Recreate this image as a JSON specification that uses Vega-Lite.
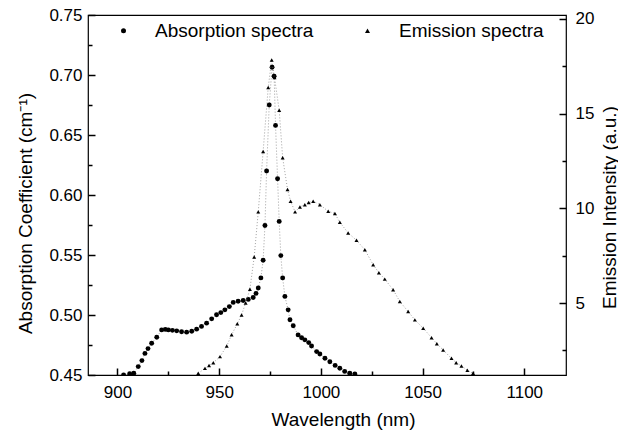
{
  "$schema": "https://vega.github.io/schema/vega-lite/v6.json",
  "width": 478,
  "height": 360,
  "autosize": "none",
  "padding": {"left": 88, "top": 15, "right": 52, "bottom": 63},
  "background": "white",
  "datasets": {
    "absorption": [
      {"w": 903, "v": 0.450, "series": "Absorption spectra"},
      {"w": 906, "v": 0.451, "series": "Absorption spectra"},
      {"w": 908, "v": 0.4515, "series": "Absorption spectra"},
      {"w": 910.2, "v": 0.457, "series": "Absorption spectra"},
      {"w": 912, "v": 0.462, "series": "Absorption spectra"},
      {"w": 913.5, "v": 0.468, "series": "Absorption spectra"},
      {"w": 915, "v": 0.472, "series": "Absorption spectra"},
      {"w": 916.8, "v": 0.4765, "series": "Absorption spectra"},
      {"w": 919.3, "v": 0.4815, "series": "Absorption spectra"},
      {"w": 921.7, "v": 0.4876, "series": "Absorption spectra"},
      {"w": 923.5, "v": 0.488, "series": "Absorption spectra"},
      {"w": 925, "v": 0.4876, "series": "Absorption spectra"},
      {"w": 927, "v": 0.4872, "series": "Absorption spectra"},
      {"w": 929.1, "v": 0.4868, "series": "Absorption spectra"},
      {"w": 931.5, "v": 0.486, "series": "Absorption spectra"},
      {"w": 934, "v": 0.4857, "series": "Absorption spectra"},
      {"w": 936.5, "v": 0.4865, "series": "Absorption spectra"},
      {"w": 938.9, "v": 0.4882, "series": "Absorption spectra"},
      {"w": 941.3, "v": 0.4905, "series": "Absorption spectra"},
      {"w": 943.8, "v": 0.4932, "series": "Absorption spectra"},
      {"w": 946.3, "v": 0.4968, "series": "Absorption spectra"},
      {"w": 948.7, "v": 0.5002, "series": "Absorption spectra"},
      {"w": 950.8, "v": 0.502, "series": "Absorption spectra"},
      {"w": 952.8, "v": 0.5043, "series": "Absorption spectra"},
      {"w": 955, "v": 0.507, "series": "Absorption spectra"},
      {"w": 956.9, "v": 0.5105, "series": "Absorption spectra"},
      {"w": 959.3, "v": 0.5115, "series": "Absorption spectra"},
      {"w": 961.8, "v": 0.5121, "series": "Absorption spectra"},
      {"w": 964.3, "v": 0.513, "series": "Absorption spectra"},
      {"w": 966.7, "v": 0.5146, "series": "Absorption spectra"},
      {"w": 968.1, "v": 0.518, "series": "Absorption spectra"},
      {"w": 969.2, "v": 0.5225, "series": "Absorption spectra"},
      {"w": 970.5, "v": 0.5309, "series": "Absorption spectra"},
      {"w": 971.6, "v": 0.5456, "series": "Absorption spectra"},
      {"w": 972.5, "v": 0.5746, "series": "Absorption spectra"},
      {"w": 973.3, "v": 0.62, "series": "Absorption spectra"},
      {"w": 974.6, "v": 0.675, "series": "Absorption spectra"},
      {"w": 976, "v": 0.7065, "series": "Absorption spectra"},
      {"w": 977, "v": 0.699, "series": "Absorption spectra"},
      {"w": 977.7, "v": 0.658, "series": "Absorption spectra"},
      {"w": 978.7, "v": 0.6136, "series": "Absorption spectra"},
      {"w": 979.5, "v": 0.578, "series": "Absorption spectra"},
      {"w": 980.3, "v": 0.5495, "series": "Absorption spectra"},
      {"w": 981.2, "v": 0.5309, "series": "Absorption spectra"},
      {"w": 982.3, "v": 0.5155, "series": "Absorption spectra"},
      {"w": 983.9, "v": 0.5043, "series": "Absorption spectra"},
      {"w": 984.8, "v": 0.496, "series": "Absorption spectra"},
      {"w": 986.4, "v": 0.491, "series": "Absorption spectra"},
      {"w": 988.8, "v": 0.4834, "series": "Absorption spectra"},
      {"w": 990.5, "v": 0.481, "series": "Absorption spectra"},
      {"w": 992.1, "v": 0.4793, "series": "Absorption spectra"},
      {"w": 994, "v": 0.477, "series": "Absorption spectra"},
      {"w": 995.4, "v": 0.4742, "series": "Absorption spectra"},
      {"w": 997.9, "v": 0.4695, "series": "Absorption spectra"},
      {"w": 999.5, "v": 0.4675, "series": "Absorption spectra"},
      {"w": 1002, "v": 0.464, "series": "Absorption spectra"},
      {"w": 1004.4, "v": 0.4611, "series": "Absorption spectra"},
      {"w": 1007, "v": 0.458, "series": "Absorption spectra"},
      {"w": 1009.3, "v": 0.4556, "series": "Absorption spectra"},
      {"w": 1011.7, "v": 0.453, "series": "Absorption spectra"},
      {"w": 1014.2, "v": 0.4514, "series": "Absorption spectra"},
      {"w": 1016.7, "v": 0.4508, "series": "Absorption spectra"}
    ],
    "emission": [
      {"w": 939.7, "v": 1.29, "series": "Emission spectra"},
      {"w": 943, "v": 1.55, "series": "Emission spectra"},
      {"w": 945, "v": 1.7, "series": "Emission spectra"},
      {"w": 947.1, "v": 1.85, "series": "Emission spectra"},
      {"w": 950.4, "v": 2.17, "series": "Emission spectra"},
      {"w": 953.7, "v": 2.73, "series": "Emission spectra"},
      {"w": 956.1, "v": 3.32, "series": "Emission spectra"},
      {"w": 958.9, "v": 3.9, "series": "Emission spectra"},
      {"w": 961, "v": 4.37, "series": "Emission spectra"},
      {"w": 963, "v": 5.0, "series": "Emission spectra"},
      {"w": 965.1, "v": 5.73, "series": "Emission spectra"},
      {"w": 967.2, "v": 7.43, "series": "Emission spectra"},
      {"w": 969.2, "v": 9.81, "series": "Emission spectra"},
      {"w": 971.6, "v": 13.0, "series": "Emission spectra"},
      {"w": 974.1, "v": 16.37, "series": "Emission spectra"},
      {"w": 975.8, "v": 17.83, "series": "Emission spectra"},
      {"w": 977.2, "v": 16.9, "series": "Emission spectra"},
      {"w": 979.5, "v": 15.17, "series": "Emission spectra"},
      {"w": 981.2, "v": 12.67, "series": "Emission spectra"},
      {"w": 983.6, "v": 10.99, "series": "Emission spectra"},
      {"w": 985.1, "v": 10.37, "series": "Emission spectra"},
      {"w": 987.3, "v": 9.81, "series": "Emission spectra"},
      {"w": 989.7, "v": 10.07, "series": "Emission spectra"},
      {"w": 992.1, "v": 10.19, "series": "Emission spectra"},
      {"w": 994, "v": 10.3, "series": "Emission spectra"},
      {"w": 996.2, "v": 10.37, "series": "Emission spectra"},
      {"w": 999.5, "v": 10.19, "series": "Emission spectra"},
      {"w": 1003.6, "v": 9.84, "series": "Emission spectra"},
      {"w": 1006.9, "v": 9.72, "series": "Emission spectra"},
      {"w": 1009.3, "v": 9.26, "series": "Emission spectra"},
      {"w": 1013.4, "v": 8.7, "series": "Emission spectra"},
      {"w": 1017.5, "v": 8.31, "series": "Emission spectra"},
      {"w": 1021.6, "v": 7.81, "series": "Emission spectra"},
      {"w": 1025.7, "v": 7.02, "series": "Emission spectra"},
      {"w": 1028.5, "v": 6.6, "series": "Emission spectra"},
      {"w": 1031.4, "v": 6.26, "series": "Emission spectra"},
      {"w": 1035.5, "v": 5.7, "series": "Emission spectra"},
      {"w": 1038.8, "v": 5.08, "series": "Emission spectra"},
      {"w": 1042.9, "v": 4.55, "series": "Emission spectra"},
      {"w": 1046.2, "v": 4.11, "series": "Emission spectra"},
      {"w": 1050.3, "v": 3.67, "series": "Emission spectra"},
      {"w": 1054.4, "v": 3.17, "series": "Emission spectra"},
      {"w": 1057, "v": 2.85, "series": "Emission spectra"},
      {"w": 1060.1, "v": 2.52, "series": "Emission spectra"},
      {"w": 1064.2, "v": 2.08, "series": "Emission spectra"},
      {"w": 1066.5, "v": 1.85, "series": "Emission spectra"},
      {"w": 1069.1, "v": 1.68, "series": "Emission spectra"},
      {"w": 1072, "v": 1.45, "series": "Emission spectra"},
      {"w": 1074.8, "v": 1.29, "series": "Emission spectra"}
    ]
  },
  "encoding": {
    "x": {
      "field": "w",
      "type": "quantitative",
      "scale": {"domain": [885.5, 1120.5], "nice": false, "zero": false},
      "axis": {
        "title": "Wavelength (nm)",
        "values": [900, 925, 950, 975, 1000, 1025, 1050, 1075, 1100],
        "labelExpr": "datum.value % 50 == 0 ? format(datum.value, 'd') : ''",
        "offset": -7,
        "domain": false,
        "tickSize": 7,
        "tickDash": {"condition": {"test": "datum.value % 50 != 0", "value": [0, 3, 4, 20]}, "value": [20, 0]},
        "labelPadding": 9,
        "titleX": 255,
        "titleY": 57,
        "titleBaseline": "alphabetic",
        "titleAlign": "center"
      }
    }
  },
  "layer": [
    {
      "data": {"name": "absorption"},
      "encoding": {
        "y": {
          "field": "v",
          "type": "quantitative",
          "scale": {"domain": [0.45, 0.75], "nice": false, "zero": false},
          "axis": {
            "orient": "left",
            "title": "Absorption Coefficient (cm⁻¹)",
            "values": [0.45, 0.475, 0.5, 0.525, 0.55, 0.575, 0.6, 0.625, 0.65, 0.675, 0.7, 0.725, 0.75],
            "labelExpr": "round(datum.value*1000) % 50 == 0 ? format(datum.value, '.2f') : ''",
            "offset": -7,
            "domain": false,
            "tickSize": 7,
            "tickDash": {"condition": {"test": "round(datum.value*1000) % 50 != 0", "value": [0, 3, 4, 20]}, "value": [20, 0]},
            "labelPadding": 6,
            "titleX": -64,
            "titleY": 198,
            "titleAngle": -90,
            "titleBaseline": "alphabetic",
            "titleAlign": "center"
          }
        }
      },
      "layer": [
        {"mark": {"type": "line", "color": "#777", "strokeWidth": 0.7, "strokeDash": [1, 2], "clip": true}},
        {
          "mark": {"type": "point", "filled": true, "color": "black", "opacity": 1, "size": 24, "clip": true},
          "encoding": {
            "shape": {
              "field": "series",
              "type": "nominal",
              "scale": {"domain": ["Absorption spectra", "Emission spectra"], "range": ["circle", "triangle-up"]},
              "legend": {
                "title": null,
                "orient": "none",
                "direction": "horizontal",
                "legendX": 26,
                "legendY": 6,
                "labelFont": "Liberation Sans",
                "labelFontSize": 19,
                "labelColor": "black",
                "labelOffset": 22,
                "columnPadding": 44,
                "symbolSize": 25,
                "symbolFillColor": "black",
                "symbolStrokeColor": "black"
              }
            }
          }
        }
      ]
    },
    {
      "data": {"name": "emission"},
      "encoding": {
        "y": {
          "field": "v",
          "type": "quantitative",
          "scale": {"domain": [1.2, 20.2], "nice": false, "zero": false},
          "axis": {
            "orient": "right",
            "title": "Emission Intensity (a.u.)",
            "values": [2.5, 5, 7.5, 10, 12.5, 15, 17.5, 20],
            "labelExpr": "datum.value % 5 == 0 ? format(datum.value, 'd') : ''",
            "offset": -7,
            "domain": false,
            "tickSize": 7,
            "tickDash": {"condition": {"test": "datum.value % 5 != 0", "value": [0, 3, 4, 20]}, "value": [20, 0]},
            "labelPadding": 9,
            "titleX": 56,
            "titleY": 192,
            "titleAngle": -90,
            "titleBaseline": "alphabetic",
            "titleAlign": "center"
          }
        }
      },
      "layer": [
        {"mark": {"type": "line", "color": "#777", "strokeWidth": 0.7, "strokeDash": [1, 2], "clip": true}},
        {
          "mark": {"type": "point", "filled": true, "color": "black", "opacity": 1, "size": 16, "clip": true},
          "encoding": {
            "shape": {"field": "series", "type": "nominal"}
          }
        }
      ]
    }
  ],
  "resolve": {"scale": {"y": "independent"}},
  "config": {
    "view": {"stroke": "black", "strokeWidth": 1.2},
    "font": "Liberation Sans",
    "axis": {
      "grid": false,
      "domainColor": "black",
      "tickColor": "black",
      "tickWidth": 1.5,
      "labelFont": "Liberation Sans",
      "labelFontSize": 17,
      "labelColor": "black",
      "titleFont": "Liberation Sans",
      "titleFontSize": 19,
      "titleFontWeight": "normal",
      "titleColor": "black",
      "labelOverlap": false,
      "labelFlush": false
    }
  }
}
